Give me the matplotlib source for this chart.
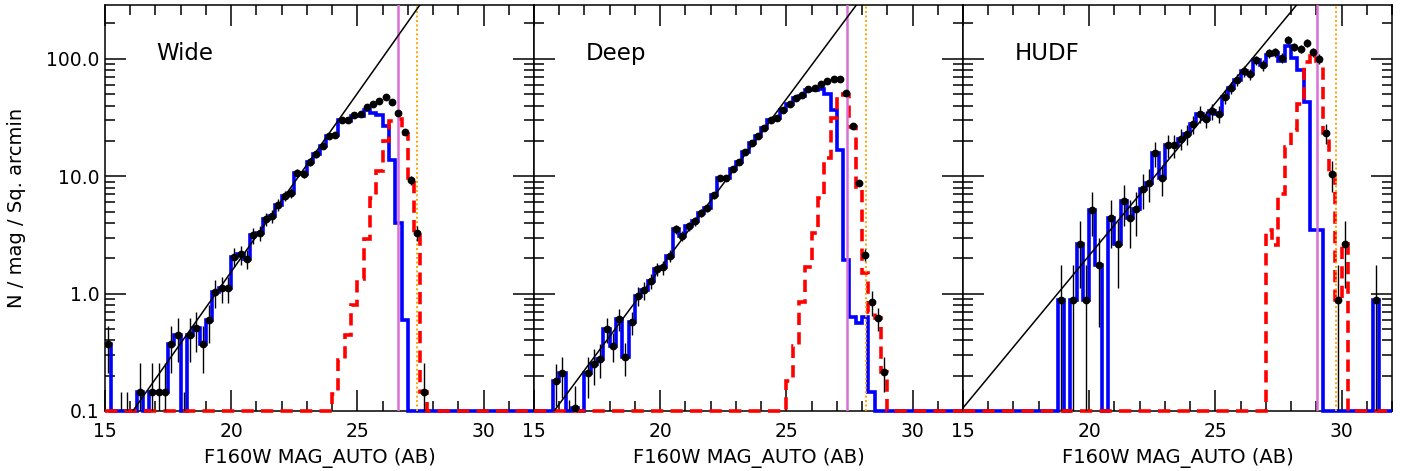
import numpy as np
import matplotlib
matplotlib.use("Agg")
import matplotlib.pyplot as plt
from matplotlib.ticker import MultipleLocator, LogLocator, FuncFormatter, NullFormatter

# ---------------- data (0.25 mag bins, 15.0 -> 32.0) ----------------
bin_edges = np.arange(15.0, 32.001, 0.25)
bin_centers = bin_edges[:-1] + 0.125

panel_names = ["Wide", "Deep", "HUDF"]

# black points (0 = no point); each row = one magnitude (4 bins)
wide_points = [
    0.37, 0, 0, 0,
    0, 0.146, 0, 0.146,
    0.146, 0.146, 0.37, 0.44,
    0, 0.44, 0.51, 0.37,
    0.59, 1.03, 1.11, 1.11,
    2.06, 2.16, 1.99, 3.14,
    3.3, 4.3, 4.6, 5.7,
    6.8, 7.2, 10.7, 10.5,
    13.3, 15.4, 18.1, 21.9,
    22.4, 30.3, 30.0, 33.5,
    33.7, 39.2, 40.8, 43.8,
    47.3, 42.9, 34.6, 23.6,
    9.2, 3.3, 0.146, 0,
    0, 0, 0, 0,
    0, 0, 0, 0,
    0, 0, 0, 0,
    0, 0, 0, 0,
]
# error half-sizes (for empty bins: height of the upper-limit bar)
wide_err = [
    0.16, 0, 0.146, 0.146,
    0, 0.11, 0, 0.11,
    0.11, 0.11, 0.16, 0.18,
    0.146, 0.18, 0.19, 0.16,
    0.21, 0.27, 0.28, 0.28,
    0.39, 0.40, 0.38, 0.48,
    0.49, 0.56, 0.58, 0.64,
    0.70, 0.72, 0.88, 0.87,
    0.98, 1.06, 1.15, 1.26,
    1.28, 1.49, 1.48, 1.56,
    1.57, 1.69, 1.72, 1.79,
    1.85, 1.77, 1.59, 1.31,
    0.82, 0.49, 0.11, 0,
    0, 0, 0, 0,
    0, 0, 0, 0,
    0, 0, 0, 0,
    0, 0, 0, 0,
]
wide_blue = [
    0.37, 0, 0, 0,
    0, 0.146, 0, 0.146,
    0.146, 0.146, 0.37, 0.44,
    0, 0.44, 0.51, 0.37,
    0.59, 1.03, 1.11, 1.11,
    2.06, 2.16, 1.99, 3.14,
    3.3, 4.3, 4.6, 5.7,
    6.8, 7.2, 10.7, 10.5,
    13.3, 15.4, 18.1, 21.9,
    22.3, 30.0, 29.5, 32.7,
    32.4, 36.5, 34.5, 33.0,
    27.0, 13.7, 4.0, 0.6,
    0, 0, 0, 0,
    0, 0, 0, 0,
    0, 0, 0, 0,
    0, 0, 0, 0,
    0, 0, 0, 0,
]
wide_red = [
    0, 0, 0, 0,
    0, 0, 0, 0,
    0, 0, 0, 0,
    0, 0, 0, 0,
    0, 0, 0, 0,
    0, 0, 0, 0,
    0, 0, 0, 0,
    0, 0, 0, 0,
    0, 0, 0, 0,
    0.14, 0.27, 0.44, 0.80,
    1.32, 2.9, 6.5, 11.0,
    20.0, 29.5, 30.5, 23.0,
    9.2, 3.3, 0.146, 0,
    0, 0, 0, 0,
    0, 0, 0, 0,
    0, 0, 0, 0,
    0, 0, 0, 0,
]

deep_points = [
    0, 0, 0, 0.18,
    0.21, 0, 0.107, 0,
    0.21, 0.25, 0.28, 0.50,
    0.36, 0.61, 0.29, 0.57,
    0.96, 1.07, 1.28, 1.62,
    1.67, 2.1, 3.54, 3.1,
    3.75, 4.15, 4.9, 5.4,
    6.9, 9.7, 9.7, 11.5,
    13.1, 16.1, 19.2, 22.0,
    25.5, 30.0, 31.6, 36.5,
    41.6, 46.4, 48.9, 55.7,
    56.9, 61.5, 64.7, 67.8,
    67.0, 51.0, 26.8, 8.7,
    2.13, 0.85, 0.62, 0.216,
    0, 0, 0, 0,
    0, 0, 0, 0,
    0, 0, 0, 0,
]
deep_err = [
    0, 0, 0, 0.07,
    0.08, 0.125, 0.056, 0,
    0.08, 0.085, 0.09, 0.12,
    0.10, 0.13, 0.09, 0.13,
    0.17, 0.18, 0.19, 0.22,
    0.22, 0.25, 0.32, 0.30,
    0.33, 0.35, 0.38, 0.40,
    0.45, 0.53, 0.53, 0.58,
    0.62, 0.68, 0.75, 0.80,
    0.86, 0.93, 0.96, 1.03,
    1.10, 1.16, 1.19, 1.27,
    1.28, 1.33, 1.37, 1.40,
    1.39, 1.21, 0.88, 0.50,
    0.25, 0.20, 0.14, 0.07,
    0, 0, 0, 0,
    0, 0, 0, 0,
    0, 0, 0, 0,
]
deep_blue = [
    0, 0, 0, 0.18,
    0.21, 0, 0.107, 0,
    0.21, 0.25, 0.28, 0.50,
    0.36, 0.61, 0.29, 0.57,
    0.96, 1.07, 1.28, 1.62,
    1.67, 2.1, 3.54, 3.1,
    3.75, 4.15, 4.9, 5.4,
    6.9, 9.7, 9.7, 11.5,
    13.1, 16.1, 19.2, 22.0,
    25.5, 30.0, 31.6, 36.5,
    41.4, 46.0, 48.0, 54.0,
    54.0, 55.0, 50.5, 36.5,
    16.6, 1.95, 0.63, 0.56,
    0.63, 0.146, 0, 0,
    0, 0, 0, 0,
    0, 0, 0, 0,
    0, 0, 0, 0,
]
deep_red = [
    0, 0, 0, 0,
    0, 0, 0, 0,
    0, 0, 0, 0,
    0, 0, 0, 0,
    0, 0, 0, 0,
    0, 0, 0, 0,
    0, 0, 0, 0,
    0, 0, 0, 0,
    0, 0, 0, 0,
    0, 0, 0, 0,
    0.18, 0.36, 0.85, 1.7,
    3.3, 6.5, 14.2, 31.3,
    50.4, 49.0, 26.2, 8.1,
    1.5, 0.7, 0.62, 0.216,
    0, 0, 0, 0,
    0, 0, 0, 0,
    0, 0, 0, 0,
]

hudf_points = [
    0, 0, 0, 0,
    0, 0, 0, 0,
    0, 0, 0, 0,
    0, 0, 0, 0.88,
    0, 0.88, 2.62, 0.88,
    5.2, 1.75, 0, 4.37,
    2.62, 6.1, 4.37, 5.25,
    7.85, 8.8, 15.7, 9.65,
    18.3, 18.4, 20.9, 23.0,
    27.6, 33.9, 30.7, 35.8,
    34.0, 47.3, 56.9, 66.5,
    78.8, 73.8, 97.0, 88.0,
    112.0, 114.0, 102.0, 145.6,
    126.0, 122.0, 136.0, 114.0,
    100.0, 23.4, 10.4, 0.88,
    2.62, 0, 0, 0,
    0, 0.88, 0, 0,
]
hudf_err = [
    0, 0, 0, 0,
    0, 0, 0, 0,
    0, 0, 0, 0,
    0, 0, 0, 0.87,
    0, 0.87, 1.5, 0.87,
    2.1, 1.23, 0, 1.94,
    1.5, 2.3, 1.94, 2.13,
    2.6, 2.76, 3.7, 2.9,
    4.0, 4.0, 4.25, 4.46,
    4.9, 5.4, 5.2, 5.6,
    5.4, 6.4, 7.0, 7.6,
    8.3, 8.0, 9.2, 8.7,
    9.8, 9.9, 9.4, 11.2,
    10.4, 10.3, 10.8, 9.9,
    9.3, 4.5, 3.0, 0.87,
    1.5, 0, 0, 0,
    0, 0.87, 0, 0,
]
hudf_blue = [
    0, 0, 0, 0,
    0, 0, 0, 0,
    0, 0, 0, 0,
    0, 0, 0, 0.88,
    0, 0.88, 2.62, 0.88,
    5.2, 1.75, 0, 4.37,
    2.62, 6.1, 4.37, 5.25,
    7.85, 8.8, 15.7, 9.65,
    18.3, 18.4, 20.9, 23.0,
    27.6, 33.9, 30.7, 35.8,
    34.0, 47.3, 56.9, 66.5,
    78.8, 73.8, 97.0, 88.0,
    108.5, 111.4, 95.0, 128.0,
    101.0, 80.0, 43.0, 3.5,
    3.5, 0, 0, 0,
    0, 0, 0, 0,
    0, 0.88, 0, 0,
]
hudf_red = [
    0, 0, 0, 0,
    0, 0, 0, 0,
    0, 0, 0, 0,
    0, 0, 0, 0,
    0, 0, 0, 0,
    0, 0, 0, 0,
    0, 0, 0, 0,
    0, 0, 0, 0,
    0, 0, 0, 0,
    0, 0, 0, 0,
    0, 0, 0, 0,
    0, 0, 0, 0,
    3.5, 2.6, 7.0, 17.8,
    24.6, 41.6, 93.0, 110.0,
    96.0, 23.4, 10.4, 0.88,
    2.62, 0, 0, 0,
    0, 0, 0, 0,
]

# power-law fits: log10 N = slope * (mag - mag_at_N1)
fit_slope = [0.304, 0.2887, 0.2596]
fit_mag_at_one = [19.39, 19.26, 18.75]
# limiting magnitudes (solid violet) and 50% completeness (dotted orange)
mag_limit = [26.62, 27.40, 29.01]
mag_complete = [27.36, 28.15, 29.78]

points_all = [wide_points, deep_points, hudf_points]
err_all = [wide_err, deep_err, hudf_err]
blue_all = [wide_blue, deep_blue, hudf_blue]
red_all = [wide_red, deep_red, hudf_red]

# ---------------- figure ----------------
W, H = 1403, 471
YMIN, YMAX = 0.1, 290.0
fig = plt.figure(figsize=(W / 100, H / 100), dpi=100)

left_px = [105, 534, 963]
panel_w = 429
bottom_px = 60
panel_h = 406.5

xx = np.linspace(15.0, 32.0, 400)

for i in range(3):
    ax = fig.add_axes([left_px[i] / W, bottom_px / H, panel_w / W, panel_h / H])
    ax.set_yscale("log")
    ax.set_xlim(15.0, 32.0)
    ax.set_ylim(YMIN, YMAX)

    pts = np.array(points_all[i], dtype=float)
    err = np.array(err_all[i], dtype=float)
    blue = np.array(blue_all[i], dtype=float)
    red = np.array(red_all[i], dtype=float)

    ax.stairs(np.maximum(blue, YMIN), bin_edges, baseline=None, color="#0000ff",
              lw=2.6, zorder=3, clip_on=False)
    ax.stairs(np.maximum(red, YMIN), bin_edges, baseline=None, color="#ff0000",
              lw=2.6, ls=(0, (3.4, 2.0)), zorder=3.2, clip_on=False)

    ax.plot(xx, 10 ** (fit_slope[i] * (xx - fit_mag_at_one[i])), color="black",
            lw=1.1, zorder=4)

    ax.axvline(mag_limit[i], color="orchid", lw=1.8, zorder=3.5)
    ax.axvline(mag_complete[i], color="orange", lw=1.4, ls=(0, (1, 1.3)), zorder=3.5)

    sel = err > 0
    lo = np.where(pts > 0, pts - err, 1e-4)
    hi = np.where(pts > 0, pts + err, err)
    ax.vlines(bin_centers[sel], np.maximum(lo[sel], 1e-4), hi[sel], color="black",
              lw=1.0, zorder=5)
    m = pts > 0
    ax.plot(bin_centers[m], pts[m], "o", color="black", ms=5.6, mew=0, zorder=6)

    ax.text(0.12, 0.8635, panel_names[i], transform=ax.transAxes, fontsize=16.5,
            va="baseline", ha="left")

    ax.xaxis.set_major_locator(MultipleLocator(5))
    ax.xaxis.set_minor_locator(MultipleLocator(1))
    ax.yaxis.set_major_locator(LogLocator(base=10, numticks=10))
    ax.yaxis.set_minor_locator(LogLocator(base=10, subs=np.arange(2, 10), numticks=20))
    ax.yaxis.set_minor_formatter(NullFormatter())
    ax.tick_params(which="both", direction="in", top=True, right=True, width=1.1,
                   labelsize=13.5)
    ax.tick_params(which="major", length=15)
    ax.tick_params(which="minor", length=7.5)
    ax.tick_params(axis="x", pad=8)
    ax.tick_params(axis="y", pad=4)
    for s in ax.spines.values():
        s.set_linewidth(1.1)

    if i == 0:
        ax.yaxis.set_major_formatter(FuncFormatter(lambda v, p: f"{v:.1f}"))
        ax.set_ylabel("N / mag / Sq. arcmin", fontsize=14, va="center")
        ax.yaxis.set_label_coords(-0.206, 0.5)
    else:
        ax.tick_params(axis="y", labelleft=False)

    ax.set_xlabel("F160W MAG_AUTO (AB)", fontsize=14, va="center")
    ax.xaxis.set_label_coords(0.5, -47 / panel_h)

fig.savefig("out.png", dpi=100)
